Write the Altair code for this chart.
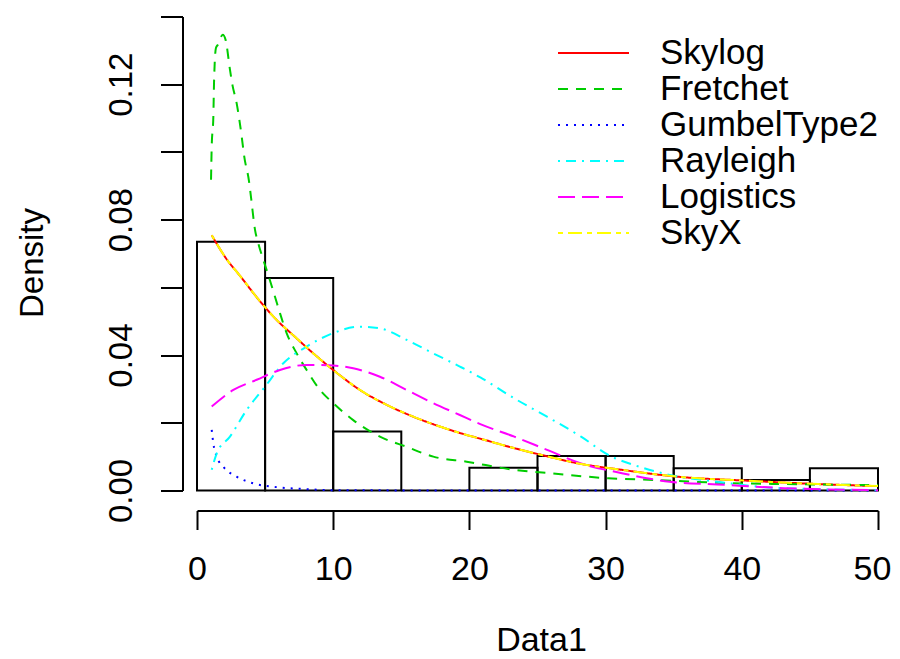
import altair as alt
import pandas as pd

# ---- data ----
series_names = ["Skylog", "Fretchet", "GumbelType2", "Rayleigh", "Logistics", "SkyX"]
series_colors = ["#FF0000", "#00CD00", "#0000FF", "#00FFFF", "#FF00FF", "#FFFF00"]
series_dashes = [[1, 0], [10, 8], [2, 6], [2, 6, 10, 6], [17, 7], [5, 5, 14, 5]]

bin_start = [0, 5, 10, 15, 20, 25, 30, 35, 40, 45]
bin_end = [5, 10, 15, 20, 25, 30, 35, 40, 45, 50]
bin_density = [0.0735, 0.0628, 0.0174, 0.0, 0.0067, 0.0102, 0.0102, 0.0066, 0.0031, 0.0066]

skylog_x = [1.08, 2.18, 3.16, 4.5, 5.72, 7.19, 8.54, 10.0, 11.96, 13.93, 15.88, 17.83, 19.8,
            20.8, 23.3, 25.3, 28.0, 31.2, 35.2, 40.4, 45.6, 50.0]
skylog_y = [0.0754, 0.0683, 0.0634, 0.0565, 0.0509, 0.0454, 0.0405, 0.0356, 0.0297, 0.0253,
            0.0218, 0.0189, 0.0164, 0.0153, 0.0125, 0.0105, 0.0080, 0.0061, 0.0041, 0.0029,
            0.0019, 0.0013]

fretchet_x = [1.03, 1.08, 1.2, 1.25, 1.39, 1.52, 1.89, 2.1, 2.42, 2.6, 2.91, 3.11, 3.28, 3.47,
              3.82, 3.96, 4.26, 4.5, 4.87, 5.23, 5.72, 6.09, 6.58, 7.32, 8.05, 9.03, 10.0,
              11.47, 13.43, 15.39, 17.35, 19.8, 23.3, 26.0, 30.2, 33.7, 38.2, 43.1, 50.0]
fretchet_y = [0.0918, 0.1016, 0.1104, 0.1204, 0.1307, 0.1316, 0.1346, 0.1331, 0.1243, 0.1198,
              0.1144, 0.1095, 0.1046, 0.0986, 0.0913, 0.0868, 0.0770, 0.0730, 0.0681, 0.0637,
              0.0573, 0.0524, 0.0465, 0.0405, 0.0356, 0.0297, 0.0258, 0.0208, 0.0159, 0.0129,
              0.0100, 0.0085, 0.0061, 0.0051, 0.0036, 0.0031, 0.0023, 0.0019, 0.0016]

gumbel_x = [1.08, 1.2, 1.45, 1.93, 2.91, 4.13, 6.09, 8.05, 10.0, 20.0, 50.0]
gumbel_y = [0.0179, 0.0139, 0.0100, 0.0070, 0.0041, 0.0021, 0.0009, 0.0004, 0.0001, 0.0, 0.0]

rayleigh_x = [1.08, 1.45, 2.42, 3.65, 5.0, 6.34, 8.05, 10.0, 11.96, 13.43, 15.39, 17.35, 19.3,
              20.8, 23.3, 25.7, 28.2, 30.2, 32.5, 34.7, 38.2, 41.9, 45.6, 50.0]
rayleigh_y = [0.0061, 0.0110, 0.0159, 0.0238, 0.0307, 0.0376, 0.0425, 0.0465, 0.0484, 0.0479,
              0.0445, 0.0405, 0.0366, 0.0334, 0.0272, 0.0218, 0.0159, 0.0105, 0.0070, 0.0046,
              0.0026, 0.0009, 0.0004, 0.0001]

logistics_x = [1.08, 2.67, 4.38, 6.09, 8.05, 10.0, 11.47, 13.43, 15.39, 17.35, 19.3, 20.8,
               23.3, 25.7, 28.2, 31.2, 34.7, 38.2, 43.1, 50.0]
logistics_y = [0.0248, 0.0297, 0.0327, 0.0356, 0.0371, 0.0369, 0.0361, 0.0336, 0.0297, 0.0258,
               0.0223, 0.0196, 0.0159, 0.0120, 0.0080, 0.0051, 0.0026, 0.0018, 0.0007, 0.0001]

skyx_x = [1.08, 2.18, 3.16, 4.5, 5.72, 7.19, 8.54, 10.0, 11.96, 13.93, 15.88, 17.83, 19.8,
          20.8, 23.3, 25.3, 28.0, 31.2, 35.2, 40.4, 45.6, 50.0]
skyx_y = [0.0754, 0.0683, 0.0634, 0.0565, 0.0509, 0.0454, 0.0405, 0.0356, 0.0297, 0.0253,
          0.0218, 0.0189, 0.0164, 0.0153, 0.0125, 0.0105, 0.0080, 0.0061, 0.0041, 0.0029,
          0.0019, 0.0013]

y_ticks = [0.0, 0.02, 0.04, 0.06, 0.08, 0.10, 0.12, 0.14]
x_ticks = [0, 10, 20, 30, 40, 50]

# ---- build tables ----
curves = [(skylog_x, skylog_y), (fretchet_x, fretchet_y), (gumbel_x, gumbel_y),
          (rayleigh_x, rayleigh_y), (logistics_x, logistics_y), (skyx_x, skyx_y)]
frames = []
for name, (xs, ys) in zip(series_names, curves):
    frames.append(pd.DataFrame({"series": name, "x": xs, "y": ys}))
lines_df = pd.concat(frames, ignore_index=True)

hist_df = pd.DataFrame({"start": bin_start, "end": bin_end, "density": bin_density})

FONT = "Liberation Sans"
W, H = 681, 474

xscale = alt.Scale(domain=[0, 50], nice=False, zero=False)
yscale = alt.Scale(domain=[0, 0.14], nice=False, zero=True)

x_axis = alt.Axis(values=x_ticks, offset=20, tickSize=19, tickWidth=2, domainWidth=2,
                  tickColor="black", domainColor="black", labelColor="black",
                  labelFont=FONT, labelFontSize=34, labelBaseline="alphabetic",
                  labelPadding=49.5, labelFlush=False, labelOverlap=False, grid=False,
                  labelOffset={"condition": {"test": "datum.value == 50", "value": -6},
                               "value": 0},
                  title="Data1", titleFont=FONT, titleFontSize=34, titleFontWeight="normal",
                  titleColor="black", titleX=344, titleY=140, titleBaseline="alphabetic",
                  titleAlign="center")

y_axis = alt.Axis(values=y_ticks, offset=14.5, tickSize=22, tickWidth=2, domainWidth=2,
                  tickColor="black", domainColor="black", labelColor="black",
                  labelFont=FONT, labelFontSize=33, labelAngle=270, labelAlign="center",
                  labelBaseline="alphabetic", labelPadding=29.5, labelFlush=False,
                  labelOverlap=False, grid=False,
                  labelExpr="round(datum.value*100) % 4 == 0 ? format(datum.value, '.2f') : ''",
                  title="Density", titleFont=FONT, titleFontSize=33, titleFontWeight="normal",
                  titleColor="black", titleX=-140.5, titleY=246, titleAngle=270,
                  titleBaseline="alphabetic", titleAlign="center")

hist = alt.Chart(hist_df).mark_rect(fill="white", fillOpacity=0, stroke="black",
                                     strokeWidth=2).encode(
    x=alt.X("start:Q", scale=xscale, axis=x_axis),
    x2="end:Q",
    y=alt.Y("density:Q", scale=yscale, axis=y_axis),
    y2=alt.datum(0),
)

legend = alt.Legend(title=None, orient="none", legendX=360, legendY=18.5,
                    symbolType="stroke", symbolSize=5041, symbolStrokeWidth=2,
                    labelFont=FONT, labelFontSize=35, labelColor="black", labelLimit=400,
                    clipHeight=36, rowPadding=0, labelOffset=30, padding=0)

lines = alt.Chart(lines_df).mark_line(strokeWidth=2, interpolate="monotone").encode(
    x=alt.X("x:Q", scale=xscale),
    y=alt.Y("y:Q", scale=yscale),
    color=alt.Color("series:N", sort=series_names,
                    scale=alt.Scale(domain=series_names, range=series_colors), legend=legend),
    strokeDash=alt.StrokeDash("series:N", sort=series_names,
                              scale=alt.Scale(domain=series_names, range=series_dashes),
                              legend=legend),
)

chart = alt.layer(hist, lines).properties(
    width=W, height=H,
    autosize=alt.AutoSizeParams(type="none"),
    padding={"left": 189, "top": 8.5, "right": 14, "bottom": 168.5},
    background="white",
).configure_view(strokeWidth=0)

chart.save("out.html", embed_options={"renderer": "svg", "actions": False})
